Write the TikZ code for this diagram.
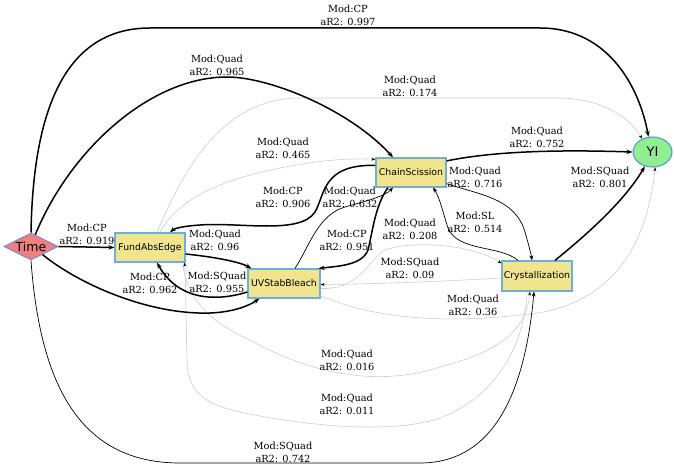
\documentclass[tikz,border=0pt]{standalone}
\usepackage{fontspec}
\setmainfont{DejaVu Serif}
\newfontfamily\nodefont{DejaVu Sans}
\usetikzlibrary{shapes.geometric,arrows.meta,calc}
\definecolor{boxfill}{RGB}{240,228,142}
\definecolor{boxline}{RGB}{110,175,215}
\definecolor{timefill}{RGB}{240,128,128}
\definecolor{timeline}{RGB}{120,140,205}
\definecolor{yifill}{RGB}{144,238,144}
\definecolor{yiline}{RGB}{70,150,210}
\definecolor{faint}{RGB}{205,205,205}
\begin{document}
\begin{tikzpicture}[x=1pt,y=-1pt,
  var/.style={draw=boxline, fill=boxfill, line width=1.2pt, rectangle, inner sep=0pt,
    minimum width=70pt, minimum height=29pt, font=\nodefont\fontsize{9.3}{10}\selectfont},
  lab/.style={align=center, font=\fontsize{9.8}{13}\selectfont, inner sep=0pt},
  strong/.style={line width=1.5pt, -{Stealth[length=6pt,width=4.5pt]}},
  fine/.style={line width=0.7pt, -{Stealth[length=5pt,width=4pt]}},
  weak/.style={draw=faint, line width=0.6pt, -{Stealth[length=4pt,width=3pt,black]}},
]
\fill[white] (0,0) rectangle (674,468);
\useasboundingbox (0,0) rectangle (674,468);

% nodes
\node[diamond, draw=timeline, fill=timefill, line width=1pt, inner sep=0pt, aspect=2,
  minimum width=54pt, minimum height=27pt, font=\nodefont\fontsize{12.5}{14}\selectfont]
  (Time) at (31,246.5) {Time};
\node[var] (FAE) at (150,247.5) {FundAbsEdge};
\node[var, minimum width=72pt] (UV) at (284,283.5) {UVStabBleach};
\node[var] (CS) at (411,172.5) {ChainScission};
\node[var, minimum height=30pt] (CR) at (537,276) {Crystallization};
\node[ellipse, draw=yiline, fill=yifill, line width=1pt, inner sep=0pt,
  minimum width=39pt, minimum height=30pt, font=\nodefont\fontsize{13}{14}\selectfont]
  (YI) at (652.5,152) {YI};

% gray edges
\draw[weak] ([xshift=7pt]FAE.north) .. controls (185,165) and (225,98) .. (300,98)
  -- (560,98) .. controls (600,99) and (628,115) .. (YI.128);
\draw[weak] ([xshift=10pt]FAE.north) .. controls (180,195) and (230,178) .. (280,168)
  .. controls (320,160) and (350,158) .. ([yshift=-2pt]CS.north west);
\draw[weak] ([yshift=-5pt]UV.east) .. controls (360,290) and (368,260) .. (385,250)
  .. controls (420,238) and (480,248) .. ([yshift=-3pt]CR.north west);
\draw[weak] ([yshift=-2pt]CR.west) .. controls (450,281) and (380,284) .. ([yshift=-1pt]UV.east);
\draw[weak] ([yshift=3pt]UV.south east) .. controls (380,322) and (460,322) .. (520,315)
  .. controls (595,310) and (645,265) .. (YI.-80);
\draw[weak] ([xshift=-3pt]FAE.south east) .. controls (186,290) and (200,318) .. (250,340)
  .. controls (300,368) and (370,390) .. (440,367)
  .. controls (495,352) and (525,335) .. ([xshift=-7pt]CR.south);
\draw[weak] ([xshift=-10pt]CR.south) .. controls (525,340) and (500,395) .. (440,418)
  .. controls (390,435) and (300,425) .. (240,412)
  .. controls (195,402) and (188,385) .. (187,360)
  .. controls (186,320) and (186,290) .. ([xshift=-1pt]FAE.south east);

% black edges
\draw[strong] (Time.north) .. controls (33,120) and (60,28) .. (150,28) -- (540,28)
  .. controls (610,28) and (640,90) .. (YI.105);
\draw[strong] (Time.70) .. controls (70,150) and (150,77) .. (227,77)
  .. controls (270,77) and (350,110) .. ([xshift=-18pt]CS.north);
\draw[strong] ([yshift=-8pt]CS.north west) .. controls (322,164) and (325,195) .. (315,212)
  .. controls (300,235) and (240,222) .. (200,225)
  .. controls (185,226) and (175,228) .. ([xshift=20pt]FAE.north);
\draw[strong] (Time.east) -- (FAE.west);
\draw[strong] ([yshift=-6.5pt]FAE.east) .. controls (215,257) and (240,262) .. ([xshift=4pt]UV.north west);
\draw[strong] ([yshift=-8.5pt]UV.west) .. controls (215,302) and (178,300) .. ([xshift=7pt]FAE.south);
\draw[strong] (Time.-35) .. controls (80,285) and (150,315) .. (210,313)
  .. controls (235,312) and (250,305) .. ([xshift=12pt]UV.south west);
\draw[strong] ([xshift=-23pt]CS.south) .. controls (375,205) and (372,235) .. (368,250)
  .. controls (362,265) and (340,266) .. ([xshift=-2pt]UV.north east);
\draw[fine] ([xshift=11pt]UV.north) .. controls (310,245) and (318,215) .. (345,207)
  .. controls (370,200) and (385,196) .. ([xshift=-18pt]CS.south);
\draw[strong] ([yshift=-3.5pt]CS.north east) .. controls (500,150) and (570,150) .. (YI.west);
\draw[fine] ([yshift=4pt]CS.south east) .. controls (480,195) and (515,198) .. (525,232)
  .. controls (529,246) and (531,254) .. ([xshift=-5pt]CR.north);
\draw[fine] ([xshift=-19pt]CR.north) .. controls (500,245) and (458,252) .. (448,228)
  .. controls (443,213) and (440,198) .. ([xshift=22pt]CS.south);
\draw[strong] ([xshift=18pt]CR.north) .. controls (590,232) and (625,200) .. (YI.-118);
\draw[fine] (Time.south) .. controls (40,385) and (80,463) .. (180,463) -- (420,463)
  .. controls (500,463) and (526,380) .. ([xshift=-3pt]CR.south);

% labels
\node[lab] (l1) at (348,15) {Mod:CP\\aR2: 0.997};
\node[lab] (l2) at (217,65) {Mod:Quad\\aR2: 0.965};
\node[lab] (l3) at (410,86) {Mod:Quad\\aR2: 0.174};
\node[lab] (l4) at (283,148) {Mod:Quad\\aR2: 0.465};
\node[lab] (l5) at (283,197) {Mod:CP\\aR2: 0.906};
\node[lab] (l6) at (87,234) {Mod:CP\\aR2: 0.919};
\node[lab] (l7) at (215,240) {Mod:Quad\\aR2: 0.96};
\node[lab] (l8) at (217,282) {Mod:SQuad\\aR2: 0.955};
\node[lab] (l9) at (150,283) {Mod:CP\\aR2: 0.962};
\node[lab] (l10) at (347,240) {Mod:CP\\aR2: 0.951};
\node[lab] (l11) at (350,197) {Mod:Quad\\aR2: 0.632};
\node[lab] (l12) at (537,137) {Mod:Quad\\aR2: 0.752};
\node[lab] (l13) at (475,177) {Mod:Quad\\aR2: 0.716};
\node[lab] (l14) at (475,222) {Mod:SL\\aR2: 0.514};
\node[lab] (l15) at (600,177) {Mod:SQuad\\aR2: 0.801};
\node[lab] (l16) at (410,229) {Mod:Quad\\aR2: 0.208};
\node[lab] (l17) at (410,268) {Mod:SQuad\\aR2: 0.09};
\node[lab] (l18) at (473,305) {Mod:Quad\\aR2: 0.36};
\node[lab] (l19) at (347,360) {Mod:Quad\\aR2: 0.016};
\node[lab] (l20) at (347,404) {Mod:Quad\\aR2: 0.011};
\node[lab] (l21) at (283,452) {Mod:SQuad\\aR2: 0.742};
\end{tikzpicture}
\end{document}
